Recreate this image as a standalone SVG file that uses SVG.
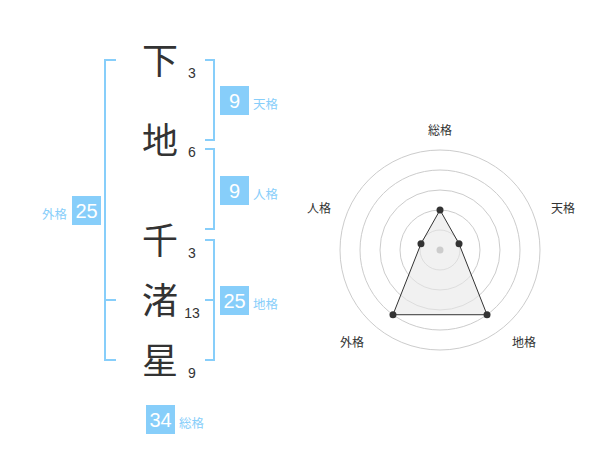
<svg xmlns="http://www.w3.org/2000/svg" width="600" height="470" viewBox="0 0 600 470">
<style>
text{font-family:"Liberation Sans","Noto Sans CJK JP",sans-serif}
.ch{font-size:36px;fill:#333;text-anchor:middle}
.st{font-size:14px;fill:#333;text-anchor:middle}
.br{fill:none;stroke:#87cefa;stroke-width:2}
.bx{fill:#87cefa}
.bn{font-size:20px;fill:#fff;text-anchor:middle}
.lb{font-size:12.5px;fill:#87cefa}
.rl{font-size:12px;fill:#333;text-anchor:middle}
.ring{fill:none;stroke:#cccccc;stroke-width:1}
.dot{fill:#333}
</style>
<rect width="600" height="470" fill="#fff"/>
<g id="chars">
<g id="c1"><text class="ch" x="160" y="74">下</text><text class="st" x="192" y="78">3</text></g>
<g id="c2"><text class="ch" x="160" y="154">地</text><text class="st" x="192" y="157">6</text></g>
<g id="c3"><text class="ch" x="160" y="254">千</text><text class="st" x="192" y="258">3</text></g>
<g id="c4"><text class="ch" x="160" y="314">渚</text><text class="st" x="192" y="318">13</text></g>
<g id="c5"><text class="ch" x="160" y="374">星</text><text class="st" x="192" y="378">9</text></g>
</g>
<g id="connectors">
<path class="br" d="M116,60 H105 V360 H116 M105,300 H116"/>
<path class="br" d="M205,60 H214 V140 H205"/>
<path class="br" d="M205,149 H214 V229 H205"/>
<path class="br" d="M205,240 H214 V360 H205 M205,300 H214"/>
</g>
<g id="tenkaku"><rect class="bx" x="220" y="86" width="29" height="29"/><text class="bn" x="234.5" y="108">9</text><text class="lb" x="253" y="109">天格</text></g>
<g id="jinkaku"><rect class="bx" x="220" y="176" width="29" height="29"/><text class="bn" x="234.5" y="198">9</text><text class="lb" x="253" y="199">人格</text></g>
<g id="chikaku"><rect class="bx" x="220" y="286" width="29" height="29"/><text class="bn" x="234.5" y="308">25</text><text class="lb" x="253" y="309">地格</text></g>
<g id="gaikaku"><rect class="bx" x="72" y="196" width="29" height="29"/><text class="bn" x="86.5" y="218">25</text><text class="lb" x="67" y="219" text-anchor="end">外格</text></g>
<g id="soukaku"><rect class="bx" x="146" y="405" width="29" height="29"/><text class="bn" x="160.5" y="427">34</text><text class="lb" x="179" y="428">総格</text></g>
<g id="radar">
<circle class="ring" cx="440" cy="250" r="20"/>
<circle class="ring" cx="440" cy="250" r="40"/>
<circle class="ring" cx="440" cy="250" r="60"/>
<circle class="ring" cx="440" cy="250" r="80"/>
<circle class="ring" cx="440" cy="250" r="100"/>
<polygon points="440,210 459.02,243.82 487.02,314.72 392.98,314.72 420.98,243.82" fill="#e8e8e8" fill-opacity="0.6" stroke="#333" stroke-width="1"/>
<circle cx="440" cy="250" r="3.5" fill="#ccc"/>
<circle class="dot" cx="440" cy="210" r="3.5"/>
<circle class="dot" cx="459.02" cy="243.82" r="3.5"/>
<circle class="dot" cx="487.02" cy="314.72" r="3.5"/>
<circle class="dot" cx="392.98" cy="314.72" r="3.5"/>
<circle class="dot" cx="420.98" cy="243.82" r="3.5"/>
<text class="rl" x="440" y="135">総格</text>
<text class="rl" x="563" y="213">天格</text>
<text class="rl" x="524" y="347">地格</text>
<text class="rl" x="352" y="347">外格</text>
<text class="rl" x="319" y="213">人格</text>
</g>
</svg>
